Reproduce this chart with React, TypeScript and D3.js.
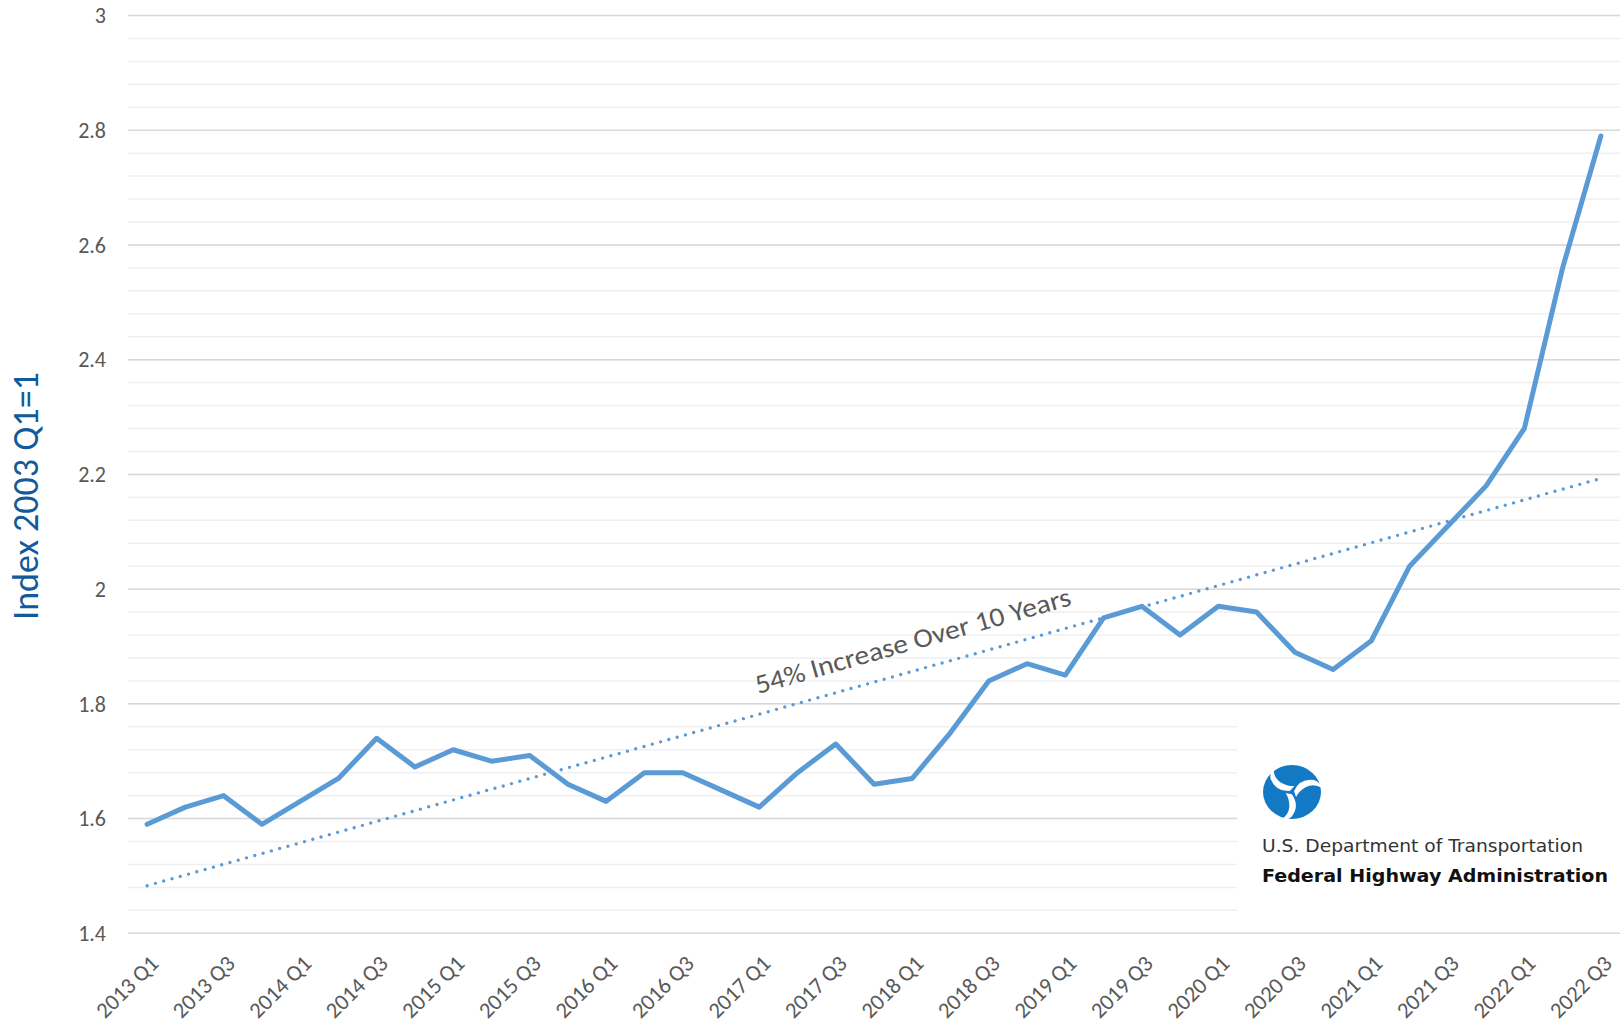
import React, { useEffect, useRef } from 'react';
import * as d3 from 'd3';

// quarterly index values, 2003 Q1 = 1
const quarters = [
  '2013 Q1', '2013 Q2', '2013 Q3', '2013 Q4',
  '2014 Q1', '2014 Q2', '2014 Q3', '2014 Q4',
  '2015 Q1', '2015 Q2', '2015 Q3', '2015 Q4',
  '2016 Q1', '2016 Q2', '2016 Q3', '2016 Q4',
  '2017 Q1', '2017 Q2', '2017 Q3', '2017 Q4',
  '2018 Q1', '2018 Q2', '2018 Q3', '2018 Q4',
  '2019 Q1', '2019 Q2', '2019 Q3', '2019 Q4',
  '2020 Q1', '2020 Q2', '2020 Q3', '2020 Q4',
  '2021 Q1', '2021 Q2', '2021 Q3', '2021 Q4',
  '2022 Q1', '2022 Q2', '2022 Q3',
];

const indexValues = [
  1.59, 1.62, 1.64, 1.59,
  1.63, 1.67, 1.74, 1.69,
  1.72, 1.70, 1.71, 1.66,
  1.63, 1.68, 1.68, 1.65,
  1.62, 1.68, 1.73, 1.66,
  1.67, 1.75, 1.84, 1.87,
  1.85, 1.95, 1.97, 1.92,
  1.97, 1.96, 1.89, 1.86,
  1.91, 2.04, 2.11, 2.18,
  2.28, 2.56, 2.79,
];

// linear trend, first and last quarter
const trendValues = [1.483, 2.193];

const yTicks = [1.4, 1.6, 1.8, 2, 2.2, 2.4, 2.6, 2.8, 3];
const yTickLabels = ['1.4', '1.6', '1.8', '2', '2.2', '2.4', '2.6', '2.8', '3'];

const yTitle = 'Index 2003 Q1=1';
const trendLabel = '54% Increase Over 10 Years';
const logoLines = ['U.S. Department of Transportation', 'Federal Highway Administration'];

const blue = '#5b9bd5';
const font = 'Carlito, Lato, "Open Sans", sans-serif';

function App() {
  const svgRef = useRef(null);

  useEffect(() => {
    const svg = d3.select(svgRef.current);
    svg.selectAll('*').remove();

    const left = 128;
    const right = 1620;
    const top = 15.5;
    const bottom = 933.3;

    const x = d3.scalePoint().domain(quarters).range([left, right]).padding(0.5);
    const y = d3.scaleLinear().domain([1.4, 3]).range([bottom, top]);

    // minor gridlines every 0.04
    const minor = d3.range(0, 41).map((i) => 1.4 + i * 0.04);
    svg.append('g')
      .selectAll('line')
      .data(minor)
      .enter()
      .append('line')
      .attr('x1', left)
      .attr('x2', right)
      .attr('y1', (d) => y(d))
      .attr('y2', (d) => y(d))
      .attr('stroke', '#efefef')
      .attr('stroke-width', 1.5);

    svg.append('g')
      .selectAll('line')
      .data(yTicks)
      .enter()
      .append('line')
      .attr('x1', left)
      .attr('x2', right)
      .attr('y1', (d) => y(d))
      .attr('y2', (d) => y(d))
      .attr('stroke', '#d9d9d9')
      .attr('stroke-width', 1.5);

    // logo backdrop hides the gridlines
    svg.append('rect')
      .attr('x', 1237)
      .attr('y', 713)
      .attr('width', right - 1237)
      .attr('height', 213)
      .attr('fill', '#fff');

    svg.append('g')
      .selectAll('text')
      .data(yTicks)
      .enter()
      .append('text')
      .attr('x', 106)
      .attr('y', (d) => y(d))
      .attr('dy', '0.35em')
      .attr('text-anchor', 'end')
      .style('font-family', font)
      .style('font-size', '22px')
      .attr('fill', '#595959')
      .text((d, i) => yTickLabels[i]);

    const xLabels = quarters.filter((q, i) => i % 2 === 0);
    svg.append('g')
      .selectAll('text')
      .data(xLabels)
      .enter()
      .append('text')
      .attr('transform', (d) => `translate(${x(d) + 7},${bottom + 26}) rotate(-45)`)
      .attr('text-anchor', 'end')
      .attr('dy', '0.35em')
      .style('font-family', font)
      .style('font-size', '22.5px')
      .attr('fill', '#595959')
      .text((d) => d);

    svg.append('text')
      .attr('transform', `translate(38,496) rotate(-90)`)
      .attr('text-anchor', 'middle')
      .style('font-family', font)
      .style('font-size', '36px')
      .attr('fill', '#125a9b')
      .text(yTitle);

    // trend line
    const trendLine = d3.line()
      .x((d) => x(d[0]))
      .y((d) => y(d[1]));
    svg.append('path')
      .datum([[quarters[0], trendValues[0]], [quarters[quarters.length - 1], trendValues[1]]])
      .attr('d', trendLine)
      .attr('fill', 'none')
      .attr('stroke', blue)
      .attr('stroke-width', 3.4)
      .attr('stroke-linecap', 'round')
      .attr('stroke-dasharray', '0 8.6');

    const line = d3.line()
      .x((d, i) => x(quarters[i]))
      .y((d) => y(d));
    svg.append('path')
      .datum(indexValues)
      .attr('d', line)
      .attr('fill', 'none')
      .attr('stroke', blue)
      .attr('stroke-width', 5)
      .attr('stroke-linejoin', 'round')
      .attr('stroke-linecap', 'round');

    svg.append('text')
      .attr('transform', 'translate(758,694) rotate(-15.8)')
      .attr('textLength', 327)
      .attr('lengthAdjust', 'spacingAndGlyphs')
      .style('font-family', font)
      .style('font-size', '27px')
      .attr('fill', '#595959')
      .text(trendLabel);

    // DOT logo
    const logo = svg.append('g').attr('transform', 'translate(1292,792)');
    logo.append('ellipse')
      .attr('rx', 29)
      .attr('ry', 27)
      .attr('fill', '#1479c4');
    [0, 120, 240].forEach((a) => {
      logo.append('path')
        .attr('transform', `rotate(${a})`)
        .attr('d', 'M 2 -1 Q 8 -14 22 -12 Q 28 -10 30 -4 Q 22 -9 14 -5 Q 7 -1 4 5 Z')
        .attr('fill', '#fff');
    });

    svg.append('text')
      .attr('x', 1262)
      .attr('y', 852)
      .attr('textLength', 321)
      .attr('lengthAdjust', 'spacingAndGlyphs')
      .style('font-family', '"DejaVu Sans", sans-serif')
      .style('font-size', '18px')
      .attr('fill', '#333')
      .text(logoLines[0]);

    svg.append('text')
      .attr('x', 1262)
      .attr('y', 882)
      .attr('textLength', 346)
      .attr('lengthAdjust', 'spacingAndGlyphs')
      .style('font-family', '"DejaVu Sans", sans-serif')
      .style('font-size', '18px')
      .style('font-weight', 'bold')
      .attr('fill', '#111')
      .text(logoLines[1]);
  }, []);

  return (
    <div style={{ position: 'absolute', left: 0, top: 0 }}>
      <svg ref={svgRef} width={1620} height={1028} style={{ display: 'block', background: '#fff' }} />
    </div>
  );
}

export default App;
